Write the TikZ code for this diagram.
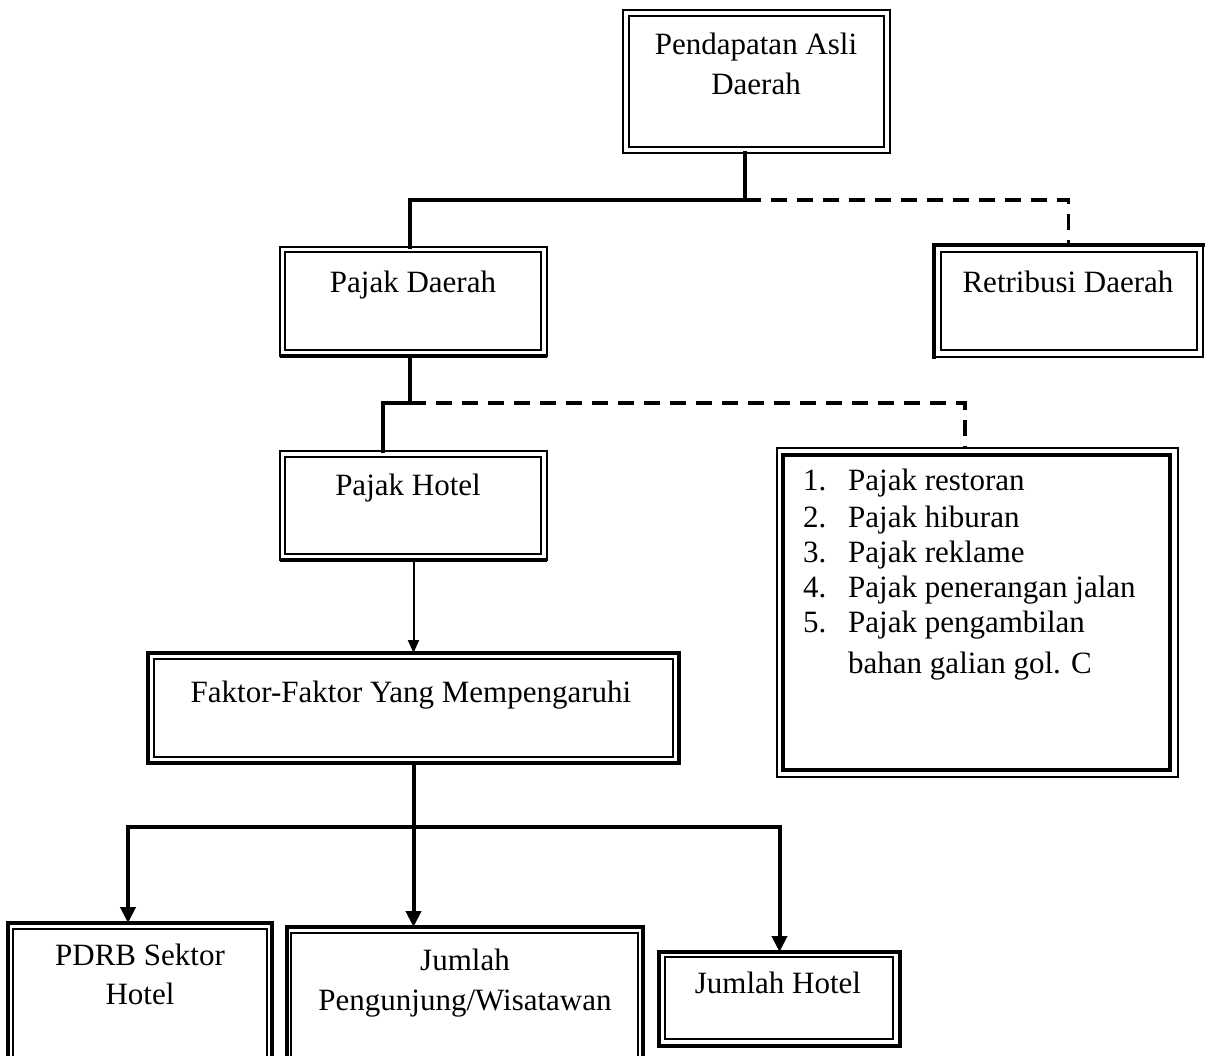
\documentclass[tikz,border=0pt]{standalone}
\usepackage{fontspec}
\setmainfont{Liberation Serif}
\usetikzlibrary{arrows.meta}
\begin{document}
\begin{tikzpicture}[x=1pt,y=-1pt,
  txt/.style={font=\fontsize{31}{36}\selectfont, inner sep=0pt, anchor=base},
  ltxt/.style={font=\fontsize{31}{36}\selectfont, inner sep=0pt, anchor=base west},
  frame/.style={draw, inner sep=0pt, outer sep=0pt, line width=#1},
  frame/.default=2pt,
  conn/.style={line width=4pt, line cap=rect},
  dconn/.style={line width=3.8pt, dash pattern=on 16pt off 10pt},
  bigtip/.style={-{Triangle[length=16pt,width=15pt]}},
  smalltip/.style={-{Triangle[length=13pt,width=11pt]}}
]
\clip (0,0) rectangle (1206,1056);
\fill[white] (0,0) rectangle (1206,1056);

% ---------- boxes (outer frames as nodes) ----------
\node[frame=2pt, minimum width=267pt, minimum height=143pt] (A) at (756.5,81.5) {};
\draw[line width=2pt] ([shift={(6pt,-6pt)}]A.north west) rectangle ([shift={(-6pt,6pt)}]A.south east);
\node[txt] (At1) at (756,55) {Pendapatan Asli};
\node[txt] (At2) at (756,95) {Daerah};

\node[frame=2.5pt, minimum width=267pt, minimum height=109pt] (B) at (413.5,301.5) {};
\draw[line width=3.5pt] (B.south west) -- (B.south east);
\draw[line width=1.6pt] ([shift={(5pt,-5pt)}]B.north west) rectangle ([shift={(-6pt,6pt)}]B.south east);
\node[txt] (Bt) at (413,293) {Pajak Daerah};

\node[frame=2pt, minimum width=269pt, minimum height=112pt] (C) at (1068.5,301) {};
\draw[line width=4.5pt, line cap=rect] (C.south west) -- (C.north west) -- (C.north east);
\draw[line width=1.6pt] ([shift={(7pt,-7pt)}]C.north west) rectangle ([shift={(-6pt,7pt)}]C.south east);
\node[txt] (Ct) at (1068,293) {Retribusi Daerah};

\node[frame=2pt, minimum width=267pt, minimum height=109pt] (D) at (413.5,505.5) {};
\draw[line width=4pt] (D.south west) -- (D.south east);
\draw[line width=1.6pt] ([shift={(5pt,-6pt)}]D.north west) rectangle ([shift={(-6pt,6pt)}]D.south east);
\node[txt] (Dt) at (408,495) {Pajak Hotel};

\node[frame=1.6pt, minimum width=401pt, minimum height=329pt] (E) at (977.5,612.5) {};
\draw[line width=3.2pt] ([shift={(6pt,-7pt)}]E.north west) rectangle ([shift={(-8pt,7pt)}]E.south east);
\node[ltxt] (En1) at (803,490) {1.};
\node[ltxt] (Ei1) at (848,490) {Pajak restoran};
\node[ltxt] (En2) at (803,527) {2.};
\node[ltxt] (Ei2) at (848,527) {Pajak hiburan};
\node[ltxt] (En3) at (803,562) {3.};
\node[ltxt] (Ei3) at (848,562) {Pajak reklame};
\node[ltxt] (En4) at (803,597) {4.};
\node[ltxt] (Ei4) at (848,597) {Pajak penerangan jalan};
\node[ltxt] (En5) at (803,632) {5.};
\node[ltxt] (Ei5) at (848,632) {Pajak pengambilan};
\node[ltxt] (Ei6) at (848,673) {bahan galian gol. C};

\node[frame=3.5pt, minimum width=531pt, minimum height=110pt] (F) at (413.5,708) {};
\draw[line width=1.6pt] ([shift={(6pt,-6pt)}]F.north west) rectangle ([shift={(-6pt,6pt)}]F.south east);
\node[txt] (Ft) at (411,702) {Faktor-Faktor Yang Mempengaruhi};

\node[frame=3.5pt, minimum width=264pt, minimum height=157pt] (G) at (140,1001.5) {};
\draw[line width=2.2pt] ([shift={(5pt,-6pt)}]G.north west) rectangle ([shift={(-5pt,6pt)}]G.south east);
\node[txt] (Gt1) at (140,965) {PDRB Sektor};
\node[txt] (Gt2) at (140,1004) {Hotel};

\node[frame=3.5pt, minimum width=356pt, minimum height=153pt] (H) at (465,1003.5) {};
\draw[line width=1.6pt] ([shift={(4pt,-6pt)}]H.north west) rectangle ([shift={(-5pt,6pt)}]H.south east);
\node[txt] (Ht1) at (465,970) {Jumlah};
\node[txt] (Ht2) at (465,1010) {Pengunjung/Wisatawan};

\node[frame=4pt, minimum width=241pt, minimum height=94pt] (I) at (779.5,999) {};
\draw[line width=1.6pt] ([shift={(6pt,-5pt)}]I.north west) rectangle ([shift={(-7pt,7pt)}]I.south east);
\node[txt] (It) at (778,993) {Jumlah Hotel};

% ---------- connectors ----------
\coordinate (j1) at (745,200);
\coordinate (j2) at (410,403);
\coordinate (j3) at (413.5,827);

\draw[conn] ([xshift=-11.5pt]A.south) -- (j1) -| ([xshift=-3.5pt]B.north);
\draw[dconn] (j1) -| (C.north);

\draw[conn] ([xshift=-3.5pt]B.south) -- (j2) -| ([xshift=-30.5pt]D.north);
\draw[dconn] (j2) -| ([xshift=-12.5pt]E.north);

\draw[line width=2pt, smalltip] (D.south) -- (F.north);

\draw[conn] (F.south) -- (j3);
\draw[conn, bigtip] (j3) -| ([xshift=-12pt]G.north);
\draw[conn, bigtip] (j3) -| (I.north);
\draw[conn, bigtip] (j3) -- ([xshift=-51.5pt]H.north);
\end{tikzpicture}
\end{document}
